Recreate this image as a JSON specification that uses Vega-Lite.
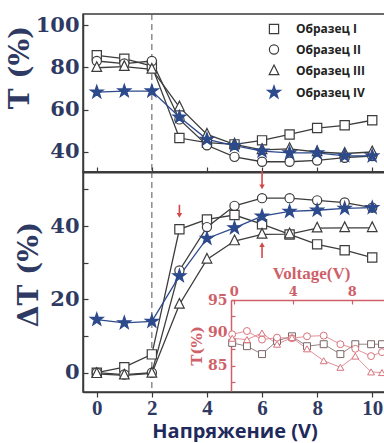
{
  "$schema": "https://vega.github.io/schema/vega-lite/v6.json",
  "padding": {"left": 5, "top": 12, "right": 0, "bottom": 0},
  "background": "white",
  "bounds": "flush",
  "spacing": 0,
  "datasets": {
    "tp": [
      {"s":"I","V":0,"T":85.7},{"s":"I","V":1,"T":84.1},{"s":"I","V":2,"T":80.6},{"s":"I","V":3,"T":46.6},{"s":"I","V":4,"T":44.4},{"s":"I","V":5,"T":43.6},{"s":"I","V":6,"T":45.5},{"s":"I","V":7,"T":48.3},{"s":"I","V":8,"T":51.3},{"s":"I","V":9,"T":52.6},{"s":"I","V":10,"T":55},
      {"s":"II","V":0,"T":83},{"s":"II","V":1,"T":81.8},{"s":"II","V":2,"T":83},{"s":"II","V":3,"T":55.4},{"s":"II","V":4,"T":43.2},{"s":"II","V":5,"T":37.7},{"s":"II","V":6,"T":35.4},{"s":"II","V":7,"T":35.4},{"s":"II","V":8,"T":36},{"s":"II","V":9,"T":37.3},{"s":"II","V":10,"T":38.1},
      {"s":"III","V":0,"T":79.8},{"s":"III","V":1,"T":80.3},{"s":"III","V":2,"T":79},{"s":"III","V":3,"T":61.2},{"s":"III","V":4,"T":48.3},{"s":"III","V":5,"T":43.6},{"s":"III","V":6,"T":41},{"s":"III","V":7,"T":41.5},{"s":"III","V":8,"T":40},{"s":"III","V":9,"T":39.3},{"s":"III","V":10,"T":40},
      {"s":"IV","V":0,"T":68.3},{"s":"IV","V":1,"T":68.8},{"s":"IV","V":2,"T":68.8},{"s":"IV","V":3,"T":56.5},{"s":"IV","V":4,"T":46},{"s":"IV","V":5,"T":43},{"s":"IV","V":6,"T":40.4},{"s":"IV","V":7,"T":39.6},{"s":"IV","V":8,"T":39.6},{"s":"IV","V":9,"T":38.2},{"s":"IV","V":10,"T":38.1}
    ],
    "bt": [
      {"s":"I","V":0,"dT":0},{"s":"I","V":1,"dT":1.5},{"s":"I","V":2,"dT":5},{"s":"I","V":3,"dT":39.1},{"s":"I","V":4,"dT":41.8},{"s":"I","V":5,"dT":43},{"s":"I","V":6,"dT":40.5},{"s":"I","V":7,"dT":37.7},{"s":"I","V":8,"dT":35},{"s":"I","V":9,"dT":33.4},{"s":"I","V":10,"dT":31.4},
      {"s":"II","V":0,"dT":0},{"s":"II","V":1,"dT":-0.5},{"s":"II","V":2,"dT":0},{"s":"II","V":3,"dT":27.9},{"s":"II","V":4,"dT":39.7},{"s":"II","V":5,"dT":45.5},{"s":"II","V":6,"dT":47.6},{"s":"II","V":7,"dT":47.6},{"s":"II","V":8,"dT":47},{"s":"II","V":9,"dT":46.4},{"s":"II","V":10,"dT":45},
      {"s":"III","V":0,"dT":-0.3},{"s":"III","V":1,"dT":-0.7},{"s":"III","V":2,"dT":-0.2},{"s":"III","V":3,"dT":18.6},{"s":"III","V":4,"dT":30.9},{"s":"III","V":5,"dT":35.9},{"s":"III","V":6,"dT":37.7},{"s":"III","V":7,"dT":37.8},{"s":"III","V":8,"dT":39.4},{"s":"III","V":9,"dT":39.5},{"s":"III","V":10,"dT":39.5},
      {"s":"IV","V":0,"dT":14.5},{"s":"IV","V":1,"dT":13.6},{"s":"IV","V":2,"dT":14},{"s":"IV","V":3,"dT":26.4},{"s":"IV","V":4,"dT":36.6},{"s":"IV","V":5,"dT":39.5},{"s":"IV","V":6,"dT":42.7},{"s":"IV","V":7,"dT":44},{"s":"IV","V":8,"dT":44.3},{"s":"IV","V":9,"dT":44.8},{"s":"IV","V":10,"dT":45}
    ],
    "ins": [
      {"s":"I","Vi":-0.1,"Ti":88.5},{"s":"I","Vi":0.9,"Ti":88.0},{"s":"I","Vi":1.92,"Ti":86.8},{"s":"I","Vi":2.94,"Ti":88.8},{"s":"I","Vi":3.95,"Ti":89.5},{"s":"I","Vi":4.97,"Ti":88.0},{"s":"I","Vi":6.1,"Ti":88.3},{"s":"I","Vi":7.23,"Ti":86.8},{"s":"I","Vi":8.24,"Ti":88.3},{"s":"I","Vi":9.31,"Ti":88.3},{"s":"I","Vi":10.05,"Ti":88.3},
      {"s":"II","Vi":-0.1,"Ti":89.8},{"s":"II","Vi":0.9,"Ti":90.3},{"s":"II","Vi":1.92,"Ti":89.0},{"s":"II","Vi":2.94,"Ti":89.3},{"s":"II","Vi":3.95,"Ti":89.2},{"s":"II","Vi":4.97,"Ti":89.5},{"s":"II","Vi":6.1,"Ti":89.6},{"s":"II","Vi":7.23,"Ti":88.3},{"s":"II","Vi":8.24,"Ti":87.6},{"s":"II","Vi":9.31,"Ti":86.5},{"s":"II","Vi":10.05,"Ti":87.1},
      {"s":"III","Vi":-0.1,"Ti":89.2},{"s":"III","Vi":0.9,"Ti":89.0},{"s":"III","Vi":1.92,"Ti":90.0},{"s":"III","Vi":2.94,"Ti":88.3},{"s":"III","Vi":3.95,"Ti":89.3},{"s":"III","Vi":4.97,"Ti":87.6},{"s":"III","Vi":6.1,"Ti":85.8},{"s":"III","Vi":7.23,"Ti":84.8},{"s":"III","Vi":8.24,"Ti":86.5},{"s":"III","Vi":9.31,"Ti":84.1},{"s":"III","Vi":10.05,"Ti":84.0}
    ],
    "arr": [
      {"V":3,"y1":45.8,"y2":42.9,"dir":"down"},
      {"V":6,"y1":55,"y2":50.7,"dir":"down"},
      {"V":6,"y1":31.3,"y2":34.9,"dir":"up"}
    ]
  },
  "vconcat": [
    {
      "width": 303,
      "height": 158,
      "layer": [
        {
          "data": {"values": [{"V": 2}]},
          "mark": {"type": "rule", "strokeDash": [6, 4], "color": "#555555", "strokeWidth": 1},
          "encoding": {
            "x": {"field": "V", "type": "quantitative", "scale": {"domain": [-0.5, 10.5], "nice": false, "zero": false}}
          }
        },
        {
          "data": {"name": "tp"},
          "transform": [{"filter": "datum.s != 'IV'"}],
          "mark": {"type": "line", "strokeWidth": 1.3, "color": "#3c3c3c"},
          "encoding": {
            "x": {"field": "V", "type": "quantitative", "scale": {"domain": [-0.5, 10.5], "nice": false, "zero": false},
              "axis": {"orient": "bottom", "values": [0,1,2,3,4,5,6,7,8,9,10], "labels": false, "tickSize": -5, "domainWidth": 2, "title": null}},
            "y": {"field": "T", "type": "quantitative", "scale": {"domain": [30.55, 105.2], "nice": false, "zero": false},
              "axis": {"values": [40,50,60,70,80,90,100], "labelExpr": "datum.value % 20 == 0 ? datum.label : ''", "tickSize": -5, "labelPadding": 9, "labelFont": "DejaVu Serif", "labelFontWeight": "bold", "labelFontSize": 21, "labelColor": "#2e3a63", "title": "T (%)", "titleFont": "DejaVu Serif", "titleFontWeight": "bold", "titleFontSize": 28, "titleColor": "#2e3a63", "titleX": -49, "titleY": 53}},
            "detail": {"field": "s", "type": "nominal"}
          }
        },
        {
          "data": {"name": "tp"},
          "transform": [{"filter": "datum.s == 'IV'"}],
          "mark": {"type": "line", "strokeWidth": 1.3, "color": "#2c4a8c"},
          "encoding": {
            "x": {"field": "V", "type": "quantitative"},
            "y": {"field": "T", "type": "quantitative"}
          }
        },
        {
          "data": {"name": "tp"},
          "mark": {"type": "point", "filled": true, "opacity": 1, "strokeWidth": 1.2, "size": 85},
          "encoding": {
            "x": {"field": "V", "type": "quantitative"},
            "y": {"field": "T", "type": "quantitative"},
            "shape": {"field": "s", "type": "nominal", "scale": {"domain": ["I","II","III","IV"], "range": ["square","circle","M0,-1.3L1.05,0.8H-1.05Z","M0,-1.45L0.34,-0.45L1.4,-0.45L0.56,0.17L0.86,1.2L0,0.57L-0.86,1.2L-0.56,0.17L-1.4,-0.45L-0.34,-0.45Z"]},
              "legend": {"title": null, "orient": "none", "legendX": 185, "legendY": 9, "symbolSize": 85, "symbolStrokeWidth": 1.2, "labelFont": "Open Sans", "labelFontWeight": "bold", "labelFontSize": 12, "labelColor": "#222222", "labelExpr": "'Образец ' + datum.label", "rowPadding": 4.5, "labelOffset": 16}},
            "fill": {"field": "s", "type": "nominal", "scale": {"domain": ["I","II","III","IV"], "range": ["#ffffff","#ffffff","#ffffff","#2c4a8c"]},
              "legend": {"title": null, "orient": "none", "legendX": 185, "legendY": 9, "symbolSize": 85, "symbolStrokeWidth": 1.2, "labelFont": "Open Sans", "labelFontWeight": "bold", "labelFontSize": 12, "labelColor": "#222222", "labelExpr": "'Образец ' + datum.label", "rowPadding": 4.5, "labelOffset": 16}},
            "stroke": {"field": "s", "type": "nominal", "scale": {"domain": ["I","II","III","IV"], "range": ["#3c3c3c","#3c3c3c","#3c3c3c","#2c4a8c"]},
              "legend": {"title": null, "orient": "none", "legendX": 185, "legendY": 9, "symbolSize": 85, "symbolStrokeWidth": 1.2, "labelFont": "Open Sans", "labelFontWeight": "bold", "labelFontSize": 12, "labelColor": "#222222", "labelExpr": "'Образец ' + datum.label", "rowPadding": 4.5, "labelOffset": 16}}
          }
        }
      ]
    },
    {
      "width": 303,
      "height": 220,
      "layer": [
        {
          "layer": [
            {
              "data": {"values": [{"V": 2}]},
              "mark": {"type": "rule", "strokeDash": [6, 4], "color": "#555555", "strokeWidth": 1},
              "encoding": {
                "x": {"field": "V", "type": "quantitative", "scale": {"domain": [-0.5, 10.5], "nice": false, "zero": false}}
              }
            },
            {
              "data": {"name": "bt"},
              "mark": {"type": "line", "strokeWidth": 1.3},
              "encoding": {
                "x": {"field": "V", "type": "quantitative", "scale": {"domain": [-0.5, 10.5], "nice": false, "zero": false},
                  "axis": {"orient": "bottom", "values": [0,1,2,3,4,5,6,7,8,9,10], "labelExpr": "datum.value % 2 == 0 ? datum.label : ''", "tickSize": 5, "labelPadding": 0, "labelFont": "Liberation Serif", "labelFontWeight": "bold", "labelFontSize": 21, "labelColor": "#2e3a63", "title": "Напряжение (V)", "titleFont": "Open Sans", "titleFontWeight": "bold", "titleFontSize": 20, "titleColor": "#1f2a5c", "titlePadding": 3}},
                "y": {"field": "dT", "type": "quantitative", "scale": {"domain": [-5.26, 54.73], "nice": false, "zero": false},
                  "axis": {"orient": "left", "values": [0,10,20,30,40,50], "labelExpr": "datum.value % 20 == 0 ? datum.label : ''", "tickSize": -5, "labelPadding": 9, "labelFont": "DejaVu Serif", "labelFontWeight": "bold", "labelFontSize": 21, "labelColor": "#2e3a63", "title": "ΔT (%)", "titleFont": "DejaVu Serif", "titleFontWeight": "bold", "titleFontSize": 28, "titleColor": "#2e3a63", "titleX": -40, "titleY": 102}},
                "color": {"field": "s", "type": "nominal", "scale": {"domain": ["I","II","III","IV"], "range": ["#3c3c3c","#3c3c3c","#3c3c3c","#2c4a8c"]}, "legend": null}
              }
            },
            {
              "data": {"name": "bt"},
              "mark": {"type": "point", "filled": true, "opacity": 1, "strokeWidth": 1.2, "size": 85},
              "encoding": {
                "x": {"field": "V", "type": "quantitative"},
                "y": {"field": "dT", "type": "quantitative"},
                "shape": {"field": "s", "type": "nominal", "scale": {"domain": ["I","II","III","IV"], "range": ["square","circle","M0,-1.3L1.05,0.8H-1.05Z","M0,-1.45L0.34,-0.45L1.4,-0.45L0.56,0.17L0.86,1.2L0,0.57L-0.86,1.2L-0.56,0.17L-1.4,-0.45L-0.34,-0.45Z"]}, "legend": null},
                "fill": {"field": "s", "type": "nominal", "scale": {"domain": ["I","II","III","IV"], "range": ["#ffffff","#ffffff","#ffffff","#2c4a8c"]}, "legend": null},
                "stroke": {"field": "s", "type": "nominal", "scale": {"domain": ["I","II","III","IV"], "range": ["#3c3c3c","#3c3c3c","#3c3c3c","#2c4a8c"]}, "legend": null}
              }
            },
            {
              "data": {"name": "arr"},
              "mark": {"type": "rule", "color": "#d04a4a", "strokeWidth": 1.6},
              "encoding": {
                "x": {"field": "V", "type": "quantitative"},
                "y": {"field": "y1", "type": "quantitative"},
                "y2": {"field": "y2"}
              }
            },
            {
              "data": {"name": "arr"},
              "transform": [{"filter": "datum.dir == 'down'"}],
              "mark": {"type": "point", "filled": true, "color": "#d04a4a", "opacity": 1, "size": 30, "shape": "triangle-down"},
              "encoding": {
                "x": {"field": "V", "type": "quantitative"},
                "y": {"field": "y2", "type": "quantitative"}
              }
            },
            {
              "data": {"name": "arr"},
              "transform": [{"filter": "datum.dir == 'up'"}],
              "mark": {"type": "point", "filled": true, "color": "#d04a4a", "opacity": 1, "size": 30, "shape": "triangle-up"},
              "encoding": {
                "x": {"field": "V", "type": "quantitative"},
                "y": {"field": "y2", "type": "quantitative"}
              }
            }
          ]
        },
        {
          "layer": [
            {
              "data": {"name": "ins"},
              "mark": {"type": "line", "strokeWidth": 0.8},
              "encoding": {
                "x": {"field": "Vi", "type": "quantitative", "scale": {"domain": [-0.18, 10.66], "range": [148, 308], "nice": false, "zero": false},
                  "axis": {"orient": "top", "offset": -128, "values": [0,4,8], "tickSize": -4, "labelPadding": 6, "domainColor": "#cf5f69", "tickColor": "#cf5f69", "labelFont": "DejaVu Serif", "labelFontWeight": "bold", "labelFontSize": 13, "labelColor": "#cf5f69", "title": "Voltage(V)", "titleFont": "Liberation Serif", "titleFontWeight": "bold", "titleFontSize": 17, "titleColor": "#cf5f69", "titlePadding": 3}},
                "y": {"field": "Ti", "type": "quantitative", "scale": {"domain": [81.21, 95], "range": [219, 128], "nice": false, "zero": false},
                  "axis": {"orient": "left", "offset": -148, "values": [82.5,85,87.5,90,92.5,95], "labelExpr": "datum.value % 5 == 0 ? datum.label : ''", "tickSize": -4, "labelPadding": 8, "domainColor": "#cf5f69", "tickColor": "#cf5f69", "labelFont": "DejaVu Serif", "labelFontWeight": "bold", "labelFontSize": 14, "labelColor": "#cf5f69", "title": "T(%)", "titleFont": "DejaVu Serif", "titleFontWeight": "bold", "titleFontSize": 15, "titleColor": "#cf5f69", "titlePadding": 3}},
                "color": {"field": "s", "type": "nominal", "scale": {"domain": ["I","II","III"], "range": ["#7a6466","#d9737c","#d9737c"]}, "legend": null}
              }
            },
            {
              "data": {"name": "ins"},
              "mark": {"type": "point", "filled": false, "opacity": 1, "strokeWidth": 1, "size": 48, "fill": "#ffffff", "fillOpacity": 1},
              "encoding": {
                "x": {"field": "Vi", "type": "quantitative"},
                "y": {"field": "Ti", "type": "quantitative"},
                "shape": {"field": "s", "type": "nominal", "scale": {"domain": ["I","II","III"], "range": ["square","circle","triangle-up"]}, "legend": null},
                "color": {"field": "s", "type": "nominal", "legend": null}
              }
            }
          ]
        }
      ],
      "resolve": {"scale": {"x": "independent", "y": "independent", "shape": "independent", "color": "independent"}}
    }
  ],
  "config": {
    "view": {"stroke": "#3a3a3a", "strokeWidth": 1.5},
    "axis": {"grid": false, "domainColor": "#3a3a3a", "tickColor": "#3a3a3a", "domainWidth": 1.5, "tickWidth": 1.2}
  }
}
